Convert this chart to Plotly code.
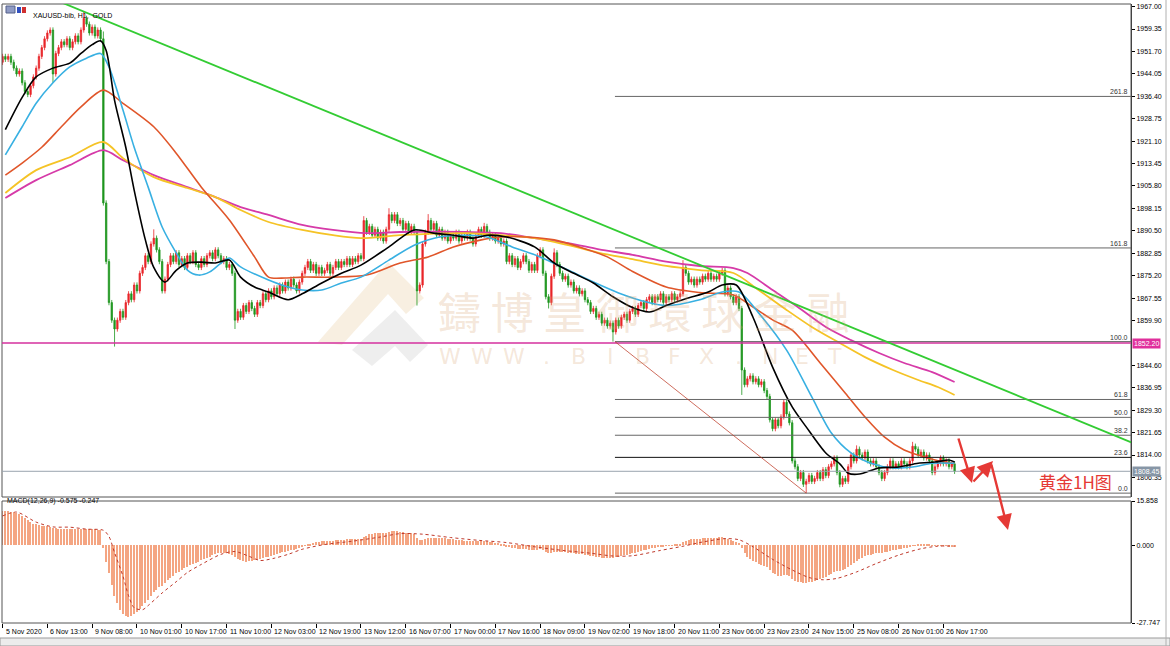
import plotly.graph_objects as go

# ---------------- data ----------------
time_labels = ["5 Nov 2020", "6 Nov 13:00", "9 Nov 08:00", "10 Nov 01:00", "10 Nov 17:00",
               "11 Nov 10:00", "12 Nov 03:00", "12 Nov 19:00", "13 Nov 12:00", "16 Nov 07:00",
               "17 Nov 00:00", "17 Nov 16:00", "18 Nov 09:00", "19 Nov 02:00", "19 Nov 18:00",
               "20 Nov 11:00", "23 Nov 06:00", "23 Nov 23:00", "24 Nov 15:00", "25 Nov 08:00",
               "26 Nov 01:00", "26 Nov 17:00"]
bars_per_label = 16

closes = [
    1950, 1949, 1950, 1948, 1946, 1944, 1945, 1941, 1938, 1937, 1940, 1943, 1946, 1950, 1953, 1956,
    1958, 1959, 1944, 1951, 1953, 1955, 1954, 1956, 1953, 1955, 1957, 1955, 1959, 1963, 1961, 1958,
    1960, 1957, 1959, 1956, 1900, 1880, 1866, 1860, 1857, 1860, 1863, 1861, 1866, 1869, 1867, 1872,
    1870, 1876, 1878, 1882, 1880, 1886, 1888, 1884, 1880, 1870, 1874, 1879, 1882, 1880, 1883, 1879,
    1881, 1878, 1882, 1880, 1883, 1879, 1878, 1881, 1879, 1882, 1883, 1881, 1884, 1882, 1880, 1881,
    1878, 1879, 1876, 1860, 1863, 1861, 1865, 1863, 1866, 1864, 1862, 1866, 1865, 1869, 1867, 1870,
    1868, 1871, 1869, 1872, 1870, 1873, 1871, 1874, 1872, 1870, 1873, 1876, 1878, 1880, 1877, 1879,
    1876, 1878, 1876, 1877, 1879, 1876, 1878, 1880, 1878, 1880, 1879, 1881, 1879, 1881, 1880, 1882,
    1881, 1894, 1890, 1892, 1889, 1891, 1888, 1890, 1887, 1891, 1896, 1894, 1896, 1893, 1894, 1891,
    1893, 1890, 1892, 1890, 1870, 1872, 1886, 1890, 1894, 1891, 1893, 1889, 1891, 1888, 1890, 1887,
    1889, 1888, 1890, 1887, 1889, 1888, 1890, 1888, 1886, 1889, 1891, 1889, 1892, 1890, 1888, 1889,
    1887, 1888, 1886, 1887, 1880, 1882, 1879, 1881, 1878, 1880, 1882, 1880, 1877, 1879, 1877, 1882,
    1884, 1876, 1868, 1866, 1875, 1883, 1879, 1876, 1874, 1875, 1872, 1873, 1870, 1871, 1869, 1870,
    1867, 1866, 1863, 1864, 1861, 1862, 1859, 1860, 1858, 1859, 1856, 1860, 1858, 1861, 1862, 1860,
    1863, 1864, 1862, 1865, 1866, 1864, 1867, 1868, 1866, 1868, 1867, 1869, 1866, 1868, 1867, 1869,
    1867, 1868, 1869, 1878, 1876, 1873, 1874, 1872, 1874, 1873, 1875, 1874, 1876, 1874, 1875, 1874,
    1876, 1877, 1869, 1871, 1868, 1866, 1868, 1864, 1843, 1838, 1840, 1841, 1839, 1840, 1838, 1839,
    1836, 1834, 1826, 1823, 1826, 1824, 1827, 1832, 1828, 1825, 1812, 1810, 1806, 1808, 1804, 1805,
    1807, 1805, 1806, 1808, 1806, 1809, 1807, 1810, 1811, 1813, 1808, 1804, 1806, 1805, 1810, 1814,
    1812, 1816, 1814, 1813, 1815, 1812, 1811, 1812, 1810, 1808, 1806, 1808, 1810, 1812, 1810, 1811,
    1810, 1812, 1811, 1810, 1812, 1817, 1816, 1814, 1815, 1813, 1814, 1812, 1808, 1810, 1811, 1813,
    1811, 1812, 1810, 1811, 1808.45,
]
first_open = 1948.0
wick = 0.9
spike_high = {29: 1965.5, 36: 1958.5, 54: 1891.0, 129: 1895.5, 138: 1898.2, 152: 1896.2,
              172: 1893.2, 197: 1884.5, 243: 1880.5, 279: 1833.0, 305: 1817.3, 325: 1818.5}
spike_low = {18: 1941.0, 40: 1851.0, 83: 1857.0, 148: 1865.0, 195: 1864.0, 218: 1852.7,
             264: 1834.5, 287: 1801.0, 299: 1803.0}

black_i = [1, 7, 12, 18, 24, 28, 32, 35, 37, 40, 44, 47, 51, 54, 58, 62, 66, 71, 76, 81, 85, 90, 95,
           102, 107, 114, 121, 128, 138, 147, 154, 161, 168, 173, 180, 190, 197, 204, 211, 218, 225,
           231, 237, 244, 252, 257, 262, 268, 275, 282, 287, 294, 299, 302, 306, 313, 320, 327, 333,
           338, 340]
black_v = [1925, 1936, 1943, 1946, 1947.7, 1951, 1954, 1955.3, 1952, 1935, 1919, 1904.4, 1887.4,
           1878, 1873, 1877, 1879.5, 1879.8, 1879.5, 1880.5, 1874.7, 1871.3, 1869.6, 1867, 1869,
           1872.7, 1876, 1878.8, 1885, 1890.8, 1889.7, 1889, 1888, 1889, 1888.4, 1885, 1879.5, 1876,
           1872.7, 1868, 1864.3, 1862.8, 1865, 1867.3, 1869.6, 1872, 1872, 1861, 1844, 1830.4,
           1823.6, 1814.7, 1811, 1807.8, 1807.5, 1809.6, 1809.9, 1811.2, 1811.6, 1812.3, 1811.6]
cyan_i = [1, 7, 12, 18, 24, 30, 35, 38, 43, 47, 52, 57, 62, 66, 70, 74, 78, 81, 85, 95, 102, 107,
          114, 121, 128, 138, 147, 156, 166, 173, 182, 192, 202, 211, 220, 230, 237, 249, 257, 263,
          270, 280, 289, 296, 303, 310, 318, 325, 332, 340]
cyan_v = [1916.4, 1926, 1934, 1941, 1946.4, 1949.4, 1951, 1946.4, 1931.7, 1919, 1905.4, 1891.8,
          1883, 1877.1, 1875.4, 1876.5, 1879.5, 1881.2, 1878.2, 1873.7, 1871.3, 1870.3, 1870.3,
          1872.7, 1874.7, 1880.5, 1885.6, 1888.4, 1889, 1888.4, 1885, 1881.6, 1877.1, 1873, 1869.3,
          1866.2, 1865, 1867, 1869.6, 1869.6, 1862.5, 1849.8, 1833.8, 1821.5, 1814.7, 1811.2,
          1809.6, 1809.9, 1811.2, 1811.2]
orange_i = [1, 7, 14, 21, 28, 36, 43, 54, 62, 71, 81, 90, 95, 101, 107, 118, 130, 142, 152, 161,
            171, 178, 187, 197, 206, 216, 225, 237, 249, 261, 268, 275, 282, 292, 301, 308, 315,
            322, 327, 333, 340]
orange_v = [1909.5, 1913.6, 1919, 1926, 1932.8, 1938.5, 1934, 1926, 1917, 1905.4, 1894.2, 1881.6,
            1874.7, 1874.4, 1874.7, 1874.7, 1875.4, 1879.5, 1881.6, 1885, 1887.4, 1888.4, 1888.4,
            1887.4, 1885, 1881.6, 1876.6, 1871.3, 1869.4, 1868.6, 1864.5, 1860.1, 1856.6, 1845.4,
            1835.1, 1827, 1820.1, 1815.7, 1814, 1812.3, 1811]
yellow_i = [1, 12, 24, 36, 43, 54, 66, 76, 85, 95, 107, 118, 128, 142, 166, 178, 190, 202, 213,
            225, 237, 249, 261, 270, 280, 289, 299, 308, 318, 327, 334, 340]
yellow_v = [1903.4, 1911.2, 1915.6, 1920.8, 1915.3, 1908.8, 1905.1, 1902, 1897.6, 1893.5, 1890.8,
            1889, 1888, 1889, 1889.7, 1889, 1888, 1885.6, 1883, 1880.8, 1878.5, 1877.1, 1876.1,
            1870.3, 1863.5, 1857.7, 1852.2, 1847.4, 1843, 1839.6, 1837.2, 1834.5]
magenta_i = [1, 12, 24, 36, 43, 54, 66, 76, 85, 95, 107, 118, 130, 142, 166, 178, 190, 202, 213,
             225, 237, 249, 261, 266, 275, 284, 294, 303, 313, 322, 332, 340]
magenta_v = [1901.7, 1907.8, 1912.9, 1918, 1914.6, 1909.5, 1905.4, 1902, 1898.6, 1895.9, 1892.5,
             1890.8, 1889.7, 1890.1, 1890.1, 1889.7, 1888, 1886.3, 1884.2, 1882.3, 1880, 1878.5,
             1877.8, 1876.1, 1870.3, 1864.5, 1857.7, 1853.2, 1848.8, 1845.4, 1842.3, 1838.9]

macd_hist = [
    12.3, 12.4, 12.2, 12.0, 11.8, 11.5, 11.2, 10.5, 9.8, 9.0, 8.2, 7.8, 7.5, 7.2, 7.0, 6.9,
    6.8, 6.7, 6.2, 6.1, 6.0, 6.0, 5.9, 5.9, 5.8, 5.8, 5.8, 5.7, 5.8, 6.0, 6.0, 5.9,
    5.8, 5.7, 5.6, 5.4, -1.0, -6.0, -10.0, -14.0, -18.0, -20.5, -23.0, -24.5, -25.2, -25.5, -25.2, -24.5,
    -23.8, -22.8, -21.8, -20.5, -19.5, -18.2, -16.8, -15.8, -15.0, -14.5, -13.5, -12.5, -11.5, -10.8, -10.0, -9.4,
    -8.8, -8.2, -7.6, -7.0, -6.6, -6.2, -5.8, -5.3, -4.9, -4.4, -4.0, -3.6, -3.2, -2.9, -2.7, -2.6,
    -2.7, -3.0, -3.4, -4.2, -4.8, -5.2, -5.6, -5.8, -5.7, -5.6, -5.4, -5.2, -5.0, -4.6, -4.3, -4.0,
    -3.7, -3.4, -3.1, -2.8, -2.5, -2.2, -2.0, -1.7, -1.5, -1.3, -1.0, -0.6, -0.2, 0.3, 0.6, 0.9,
    1.1, 1.3, 1.4, 1.5, 1.6, 1.6, 1.7, 1.8, 1.9, 2.0, 2.0, 2.1, 2.1, 2.2, 2.2, 2.3,
    2.4, 3.0, 3.5, 3.9, 4.1, 4.3, 4.4, 4.4, 4.3, 4.5, 4.8, 5.0, 5.1, 5.0, 4.9, 4.7,
    4.6, 4.4, 4.3, 4.1, 2.8, 1.8, 2.0, 2.3, 2.6, 2.7, 2.8, 2.7, 2.7, 2.6, 2.5, 2.3,
    2.2, 2.1, 2.0, 1.9, 1.8, 1.7, 1.7, 1.6, 1.4, 1.4, 1.5, 1.4, 1.5, 1.4, 1.2, 1.1,
    0.9, 0.8, 0.6, 0.5, -0.3, -0.6, -0.9, -1.0, -1.3, -1.4, -1.3, -1.4, -1.6, -1.6, -1.7, -1.5,
    -1.2, -1.5, -2.2, -2.8, -2.8, -2.3, -2.2, -2.3, -2.4, -2.4, -2.6, -2.7, -2.9, -3.0, -3.1, -3.1,
    -3.3, -3.5, -3.8, -3.9, -4.1, -4.2, -4.4, -4.4, -4.5, -4.5, -4.6, -4.3, -4.2, -3.9, -3.6, -3.4,
    -3.1, -2.8, -2.6, -2.3, -2.0, -1.8, -1.5, -1.2, -1.0, -0.8, -0.6, -0.4, -0.3, -0.2, -0.1, 0.1,
    0.2, 0.3, 0.4, 1.2, 1.7, 1.9, 2.1, 2.2, 2.3, 2.4, 2.5, 2.6, 2.7, 2.7, 2.8, 2.8,
    2.9, 3.0, 2.5, 2.2, 1.8, 1.4, 1.2, 0.8, -1.0, -2.8, -4.0, -4.9, -5.6, -6.1, -6.6, -6.9,
    -7.3, -7.8, -8.8, -9.8, -10.3, -10.8, -10.9, -10.6, -10.6, -10.8, -11.9, -12.6, -13.0, -13.2, -13.4, -13.4,
    -13.2, -13.0, -12.8, -12.5, -12.1, -11.7, -11.2, -10.7, -10.2, -9.6, -9.3, -9.2, -8.9, -8.6, -7.9, -7.0,
    -6.4, -5.6, -5.0, -4.5, -3.9, -3.6, -3.3, -3.0, -2.8, -2.7, -2.7, -2.5, -2.3, -2.0, -1.8, -1.6,
    -1.4, -1.2, -1.0, -0.9, -0.7, -0.2, 0.1, 0.2, 0.3, 0.3, 0.3, 0.2, -0.1, -0.2, -0.2, -0.1,
    -0.2, -0.2, -0.3, -0.4, -0.575,
]
signal_i = [0, 5, 12, 18, 24, 30, 36, 38, 40, 43, 45, 47, 50, 52, 57, 62, 66, 71, 78, 83, 88, 92,
            97, 102, 107, 115, 125, 135, 142, 150, 160, 170, 180, 190, 200, 210, 218, 225, 235, 243,
            250, 258, 263, 268, 275, 282, 288, 293, 298, 305, 312, 320, 328, 334, 340]
signal_v = [10.5, 11.9, 8.3, 6.6, 6.5, 5.8, 5.4, 3.2, -2.6, -11.0, -18.0, -22.3, -23.0, -21.5,
            -17.0, -13.0, -9.7, -6.8, -3.2, -2.2, -3.9, -5.4, -4.6, -3.2, -1.4, 0.3, 1.5, 3.0, 4.2,
            4.0, 2.8, 1.8, 1.0, -0.5, -1.8, -2.8, -3.8, -3.7, -1.8, -0.3, 1.2, 2.4, 2.0, -0.5, -5.0,
            -8.8, -11.5, -12.3, -11.8, -9.5, -6.5, -3.5, -1.2, -0.3, -0.247]

support_price = 1852.20
bid_price = 1808.45
fib_levels = [0.0, 23.6, 38.2, 50.0, 61.8, 100.0, 161.8, 261.8]
fib_price_0 = 1801.0
fib_price_100 = 1852.7
fib_bar_100 = 218.7
fib_bar_0 = 287.0
trend_bars = [21.6, 403.2]
trend_prices = [1968.2, 1818.3]

main_range = [1799.68, 1967.88]
macd_range = [-27.747, 15.858]
x_range = [-0.2, 403.0]
price_ticks = [round(1967.00 - 7.65 * k, 2) for k in range(22) if k != 15]
macd_ticks = [15.858, 0.0, -27.747]
macd_ticktext = ["15.858", "0.000", "-27.747"]
watermark_text = "鑄 博 皇 御 環 球 金 融"
watermark_web = list("WWW.BIBFX.NET")

# ---------------- geometry helpers ----------------
W, H = 1170, 646
ML, MR, MT, MB = 2, 39, 4, 23
PW = W - ML - MR
PH = H - MT - MB


def pxx(xp):
    return (xp - ML) / PW


def pxy(yp):
    return (H - MB - yp) / PH


def path_from(points):
    return "M " + " L ".join("%.5f,%.5f" % (pxx(a), pxy(b)) for a, b in points) + " Z"


N = len(closes)
idx = list(range(N))
opens = [first_open] + closes[:-1]
highs = [spike_high.get(i, max(o, c) + wick) for i, (o, c) in enumerate(zip(opens, closes))]
lows = [spike_low.get(i, min(o, c) - wick) for i, (o, c) in enumerate(zip(opens, closes))]

UP = "#e8262a"
DN = "#1e961e"
FONT = "Liberation Sans"

fig = go.Figure()
fig.add_trace(go.Candlestick(
    x=idx, open=opens, high=highs, low=lows, close=closes,
    increasing=dict(line=dict(color=UP, width=0.8), fillcolor=UP),
    decreasing=dict(line=dict(color=DN, width=0.8), fillcolor=DN),
    whiskerwidth=0, hoverinfo="skip", xaxis="x", yaxis="y"))

for xs, ys, col, w in [(magenta_i, magenta_v, "#d63aa8", 1.8), (yellow_i, yellow_v, "#f5c326", 1.8),
                       (orange_i, orange_v, "#e0562a", 1.6), (cyan_i, cyan_v, "#38b0e2", 1.6),
                       (black_i, black_v, "#000000", 1.6)]:
    fig.add_trace(go.Scatter(x=xs, y=ys, mode="lines", xaxis="x", yaxis="y", hoverinfo="skip",
                             line=dict(color=col, width=w, shape="spline", smoothing=0.8)))

fig.add_trace(go.Bar(x=idx, y=macd_hist, xaxis="x2", yaxis="y2", width=0.42,
                     marker=dict(color="#f4a582", line=dict(width=0)), hoverinfo="skip"))
fig.add_trace(go.Scatter(x=signal_i, y=signal_v, mode="lines", xaxis="x2", yaxis="y2",
                         hoverinfo="skip",
                         line=dict(color="#c0392b", width=1, dash="dot", shape="spline", smoothing=0.8)))

main_dom = [pxy(497), 1.0]
macd_dom = [0.0, pxy(501)]

shapes = []
# faint watermark logo (behind the data)
shapes.append(dict(type="path", xref="paper", yref="paper", layer="below",
                   path=path_from([(318, 342), (388, 262), (424, 298), (406, 314), (388, 294), (342, 345)]),
                   fillcolor="rgba(225,180,120,0.22)", line=dict(width=0)))
shapes.append(dict(type="path", xref="paper", yref="paper", layer="below",
                   path=path_from([(352, 350), (395, 310), (428, 345), (410, 362), (395, 346), (372, 366)]),
                   fillcolor="rgba(150,150,150,0.16)", line=dict(width=0)))
shapes.append(dict(type="rect", xref="paper", yref="paper", x0=0, x1=1, y0=main_dom[0], y1=1,
                   line=dict(color="#555555", width=1), layer="above"))
shapes.append(dict(type="rect", xref="paper", yref="paper", x0=0, x1=1, y0=0, y1=macd_dom[1],
                   line=dict(color="#555555", width=1), layer="above"))
shapes.append(dict(type="line", xref="paper", yref="y", x0=0, x1=1, y0=support_price, y1=support_price,
                   line=dict(color="#d4309e", width=1.6)))
shapes.append(dict(type="line", xref="paper", yref="y", x0=0, x1=1, y0=bid_price, y1=bid_price,
                   line=dict(color="#9aa4ae", width=1)))
for lv in fib_levels:
    p = fib_price_0 + lv / 100.0 * (fib_price_100 - fib_price_0)
    col = "#111111" if lv == 23.6 else "#666666"
    shapes.append(dict(type="line", xref="x", yref="y", x0=fib_bar_100, x1=x_range[1], y0=p, y1=p,
                       line=dict(color=col, width=1)))
shapes.append(dict(type="line", xref="x", yref="y", x0=fib_bar_100, x1=fib_bar_0,
                   y0=fib_price_100, y1=fib_price_0, line=dict(color="rgba(190,60,40,0.75)", width=1)))
shapes.append(dict(type="line", xref="x", yref="y", x0=trend_bars[0], x1=trend_bars[1],
                   y0=trend_prices[0], y1=trend_prices[1], line=dict(color="#33cc33", width=1.8)))
# window frame bits
shapes.append(dict(type="rect", xref="paper", yref="paper", x0=pxx(0), x1=pxx(1170), y0=pxy(646), y1=pxy(638),
                   fillcolor="#ececec", line=dict(color="#9a9a9a", width=1)))
shapes.append(dict(type="line", xref="paper", yref="paper", x0=pxx(1166), x1=pxx(1166), y0=pxy(646), y1=pxy(0),
                   line=dict(color="#b0b0b0", width=1)))
# title icon
shapes.append(dict(type="rect", xref="paper", yref="paper", x0=pxx(6), x1=pxx(15), y0=pxy(13), y1=pxy(6),
                   fillcolor="#8f9bc4", line=dict(color="#55608a", width=1)))
shapes.append(dict(type="rect", xref="paper", yref="paper", x0=pxx(17), x1=pxx(21), y0=pxy(13), y1=pxy(7),
                   fillcolor="#3050c0", line=dict(width=0)))
shapes.append(dict(type="rect", xref="paper", yref="paper", x0=pxx(22), x1=pxx(26), y0=pxy(13), y1=pxy(7),
                   fillcolor="#d03030", line=dict(width=0)))

annotations = []
for k, lab in enumerate(time_labels):
    annotations.append(dict(x=k * bars_per_label, y=0, xref="x2", yref="paper", text=lab,
                            showarrow=False, xanchor="left", yanchor="top", xshift=1, yshift=-3,
                            font=dict(family=FONT, size=7, color="#000")))
for lv in fib_levels:
    p = fib_price_0 + lv / 100.0 * (fib_price_100 - fib_price_0)
    annotations.append(dict(x=1, y=p, xref="paper", yref="y", text="%.1f" % lv, showarrow=False,
                            xanchor="right", yanchor="bottom", xshift=-1, yshift=-1,
                            font=dict(family=FONT, size=7, color="#333")))
annotations.append(dict(x=1, y=support_price, xref="paper", yref="y", text="%.2f" % support_price,
                        showarrow=False, xanchor="left", xshift=1, bgcolor="#e0309c", borderpad=1,
                        font=dict(family=FONT, size=7, color="#fff")))
annotations.append(dict(x=1, y=bid_price, xref="paper", yref="y", text="%.2f" % bid_price,
                        showarrow=False, xanchor="left", xshift=1, bgcolor="#8796a6", borderpad=1,
                        font=dict(family=FONT, size=7, color="#fff")))
annotations.append(dict(x=pxx(31), y=pxy(10), xref="paper", yref="paper", text="XAUUSD-bib, H1,  GOLD",
                        showarrow=False, xanchor="left", font=dict(family=FONT, size=7, color="#000")))
annotations.append(dict(x=pxx(5), y=pxy(507), xref="paper", yref="paper",
                        text="MACD(12,26,9) -0.575 -0.247", showarrow=False, xanchor="left",
                        font=dict(family=FONT, size=7, color="#000")))
wm_col = "rgba(215,165,115,0.27)"
annotations.append(dict(x=pxx(643), y=pxy(310), xref="paper", yref="paper", text=watermark_text,
                        showarrow=False, xanchor="center", yanchor="middle",
                        font=dict(family="Noto Sans CJK TC", size=43, color=wm_col)))
for k, ch in enumerate(watermark_web):
    annotations.append(dict(x=pxx(450 + 32 * k), y=pxy(356), xref="paper", yref="paper", text=ch,
                            showarrow=False, xanchor="center", yanchor="middle",
                            font=dict(family="DejaVu Sans", size=22, color=wm_col)))
RED = "#e53935"
for (hx, hy, tx, ty) in [(972, 483, 958, 437), (993, 461, 972, 483), (1008, 530, 991, 463)]:
    annotations.append(dict(x=pxx(hx), y=pxy(hy), xref="paper", yref="paper", ax=tx - hx, ay=ty - hy,
                            axref="pixel", ayref="pixel", showarrow=True, arrowhead=2, arrowsize=1.3,
                            arrowwidth=2.4, arrowcolor=RED, text=""))
annotations.append(dict(x=pxx(1075), y=pxy(481), xref="paper", yref="paper", text="黄金1H图",
                        showarrow=False, xanchor="center", yanchor="middle",
                        font=dict(family="Noto Sans CJK SC", size=17, color=RED)))

axis_font = dict(family=FONT, size=7, color="#000")
fig.update_layout(
    width=W, height=H, margin=dict(l=ML, r=MR, t=MT, b=MB, pad=0),
    paper_bgcolor="#ffffff", plot_bgcolor="rgba(0,0,0,0)", showlegend=False, bargap=0,
    xaxis=dict(domain=[0, 1], range=x_range, anchor="y", showticklabels=False, ticks="",
               showgrid=False, zeroline=False, showline=False, rangeslider=dict(visible=False),
               fixedrange=True),
    xaxis2=dict(domain=[0, 1], range=x_range, anchor="y2", matches="x", showticklabels=False,
                tickmode="array", tickvals=[k * bars_per_label for k in range(len(time_labels))],
                ticks="outside", ticklen=4, tickcolor="#000", showgrid=False, zeroline=False,
                showline=False, fixedrange=True),
    yaxis=dict(domain=main_dom, range=main_range, side="right", anchor="x", tickmode="array",
               tickvals=price_ticks, ticktext=["%.2f" % v for v in price_ticks], ticks="outside",
               ticklen=3, tickcolor="#000", showline=True, linecolor="#333", linewidth=1,
               showgrid=False, zeroline=False, tickfont=axis_font, automargin=False, fixedrange=True),
    yaxis2=dict(domain=macd_dom, range=macd_range, side="right", anchor="x2", tickmode="array",
                tickvals=macd_ticks, ticktext=macd_ticktext, ticks="outside", ticklen=3,
                tickcolor="#000", showline=True, linecolor="#333", linewidth=1, showgrid=False,
                zeroline=False, tickfont=axis_font, automargin=False, fixedrange=True),
    shapes=shapes, annotations=annotations,
)

fig.write_html("out.html", config={"displayModeBar": False},
               post_script="document.body.style.margin='0';document.body.style.padding='0';")
